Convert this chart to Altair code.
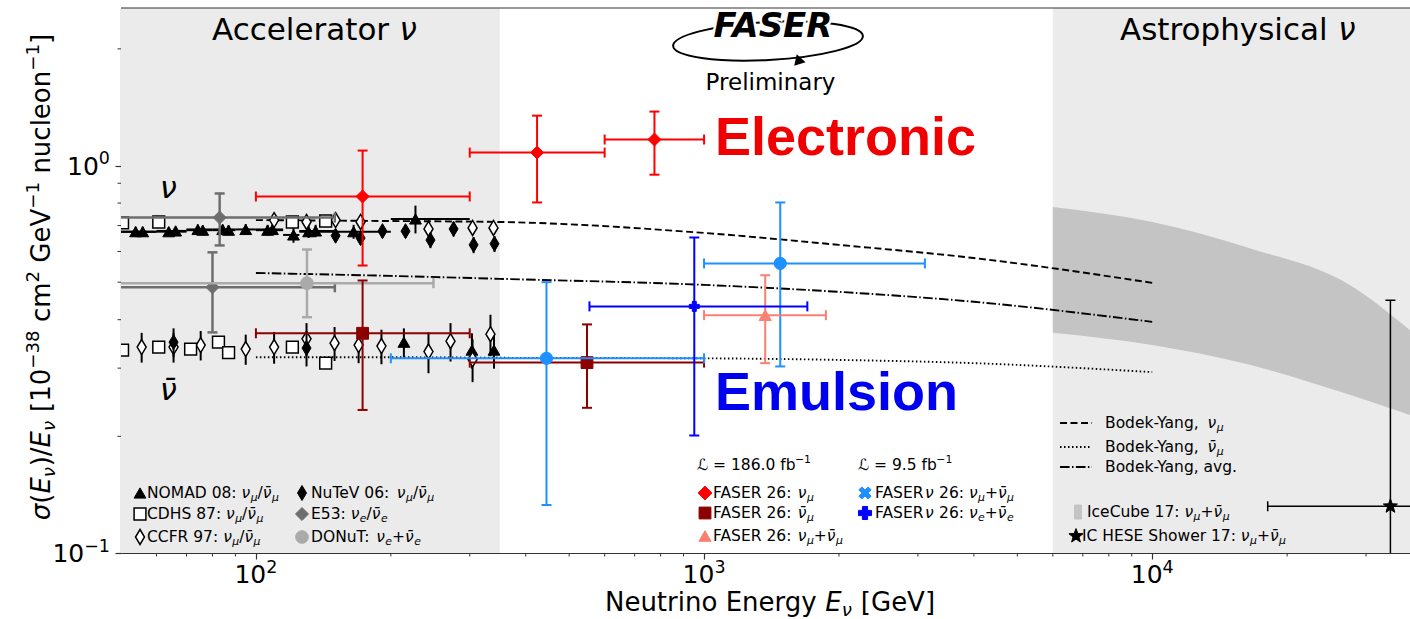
import math
import altair as alt
import pandas as pd

# ------------------------------------------------------------------
# Layout of the plot area (pixels) and the two log axes
# ------------------------------------------------------------------
W, H = 1289, 545
FONT = "DejaVu Sans"
BOLD_FONT = "Liberation Sans"

XS = alt.Scale(type="log", domain=[50, 37600], nice=False)
YS = alt.Scale(type="log", domain=[0.1, 2.55], nice=False)
AX = alt.Axis(values=[100, 1000, 10000], labels=False, title=None, grid=False, tickSize=6)
AY = alt.Axis(values=[0.1, 1], labels=False, title=None, grid=False, tickSize=6)

# ------------------------------------------------------------------
# Cross-section data, sigma/E in 1e-38 cm^2 GeV^-1 nucleon^-1
# ------------------------------------------------------------------
# FASER electronic detector, nu_mu
faser_numu_E = [173, 424, 775]
faser_numu_Elo = [100, 300, 600]
faser_numu_Ehi = [300, 600, 1000]
faser_numu_xs = [0.832, 1.080, 1.167]
faser_numu_lo = [0.552, 0.803, 0.947]
faser_numu_hi = [1.093, 1.345, 1.378]

# FASER electronic detector, anti-nu_mu
faser_nubar_E = [173, 548]
faser_nubar_Elo = [100, 300]
faser_nubar_Ehi = [300, 1000]
faser_nubar_xs = [0.369, 0.310]
faser_nubar_lo = [0.234, 0.237]
faser_nubar_hi = [0.505, 0.389]

# FASER electronic detector, nu_mu + anti-nu_mu
faser_sum_E = [1369]
faser_sum_Elo = [1000]
faser_sum_Ehi = [1870]
faser_sum_xs = [0.411]
faser_sum_lo = [0.309]
faser_sum_hi = [0.521]

# FASERnu emulsion, nu_mu + anti-nu_mu
fasernu_mu_E = [445, 1479]
fasernu_mu_Elo = [200, 1000]
fasernu_mu_Ehi = [1000, 3110]
fasernu_mu_xs = [0.318, 0.559]
fasernu_mu_lo = [0.133, 0.303]
fasernu_mu_hi = [0.500, 0.803]

# FASERnu emulsion, nu_e + anti-nu_e
fasernu_e_E = [951]
fasernu_e_Elo = [555]
fasernu_e_Ehi = [1700]
fasernu_e_xs = [0.433]
fasernu_e_lo = [0.201]
fasernu_e_hi = [0.652]

# NOMAD 08
nomad_nu_E = [53.9, 55.9, 63.9, 66.2, 74.2, 76.1, 84.3, 86.9, 94.9, 106.2, 108.9, 121.3, 131.1, 135.9, 165.2, 227.0]
nomad_nu_Elo = [45, 45, 60, 60, 70, 70, 80, 80, 90, 100, 100, 115, 125, 125, 150, 200]
nomad_nu_Ehi = [60, 60, 70, 70, 80, 80, 90, 90, 100, 115, 115, 125, 150, 150, 200, 300]
nomad_nu_xs = [0.675, 0.675, 0.675, 0.678, 0.684, 0.681, 0.684, 0.681, 0.684, 0.681, 0.684, 0.662, 0.675, 0.678, 0.675, 0.728]
nomad_nu_err = [0.020, 0.020, 0.018, 0.018, 0.020, 0.020, 0.020, 0.020, 0.022, 0.022, 0.022, 0.030, 0.025, 0.025, 0.028, 0.060]
nomad_nubar_E = [213.9, 303.4, 339.8]
nomad_nubar_xs = [0.350, 0.334, 0.334]
nomad_nubar_err = [0.030, 0.035, 0.035]

# CDHS 87
cdhs_nu_E = [50.4, 60.7, 120.6, 143.1]
cdhs_nu_xs = [0.711, 0.715, 0.715, 0.719]
cdhs_nubar_E = [50.4, 60.7, 71.5, 82.5, 86.9, 120.6, 143.1]
cdhs_nubar_xs = [0.334, 0.340, 0.336, 0.350, 0.329, 0.340, 0.309]

# CCFR 97
ccfr_nu_E = [109.8, 129.7, 150.6, 171.2, 242.7, 304.4, 338.9]
ccfr_nu_xs = [0.723, 0.715, 0.723, 0.715, 0.686, 0.690, 0.690]
ccfr_nu_err = [0.020, 0.020, 0.020, 0.020, 0.022, 0.022, 0.022]
ccfr_nubar_E = [55.6, 65.5, 75.3, 94.9, 109.8, 129.7, 149.8, 169.5, 190.6, 242.7, 271.8, 304.4, 333.7]
ccfr_nubar_xs = [0.340, 0.340, 0.344, 0.336, 0.340, 0.357, 0.348, 0.344, 0.342, 0.331, 0.352, 0.316, 0.367]
ccfr_nubar_err = [0.030, 0.030, 0.030, 0.030, 0.032, 0.035, 0.035, 0.035, 0.035, 0.040, 0.040, 0.040, 0.045]

# NuTeV 06
nutev_nu_E = [150.6, 171.2, 191.6, 215.7, 245.2, 276.1, 306.0, 340.7]
nutev_nu_xs = [0.659, 0.650, 0.677, 0.677, 0.642, 0.686, 0.624, 0.628]
nutev_nu_err = [0.025, 0.025, 0.025, 0.025, 0.030, 0.030, 0.030, 0.030]
nutev_nubar_E = [65.5, 129.7]
nutev_nubar_xs = [0.350, 0.338]
nutev_nubar_err = [0.030, 0.035]

# E53 (nu_e / anti-nu_e) and DONuT (nu_e + anti-nu_e)
e53_E = [83, 80]
e53_Elo = [30, 30]
e53_Ehi = [150, 150]
e53_xs = [0.734, 0.485]
e53_lo = [0.622, 0.371]
e53_hi = [0.847, 0.597]
donut_E = [130]
donut_Elo = [30]
donut_Ehi = [249]
donut_xs = [0.497]
donut_lo = [0.406]
donut_hi = [0.607]

# Bodek-Yang predictions
by_E = [100, 200, 350, 1000, 2000, 4000, 10000]
by_numu = [0.723, 0.719, 0.715, 0.670, 0.624, 0.577, 0.498]
by_nubar = [0.320, 0.320, 0.319, 0.318, 0.315, 0.309, 0.293]
by_avg = [0.528, 0.519, 0.510, 0.492, 0.472, 0.445, 0.395]

# IceCube 17 band and IC HESE shower point
ic_E = [6000, 10000, 16500, 27600, 37600]
ic_hi = [0.782, 0.715, 0.612, 0.492, 0.376]
ic_lo = [0.370, 0.344, 0.306, 0.256, 0.227]
hese_E = [34000]
hese_Elo = [18100]
hese_Ehi = [70000]
hese_xs = [0.132]
hese_lo = [0.02]
hese_hi = [0.449]

# Shaded energy regions
regions_lo = [10, 6000]
regions_hi = [350, 1e6]

# Minor tick positions
x_minor = [60, 70, 80, 90, 200, 300, 400, 500, 600, 700, 800, 900,
           2000, 3000, 4000, 5000, 6000, 7000, 8000, 9000, 20000, 30000]
y_minor = [0.2, 0.3, 0.4, 0.5, 0.6, 0.7, 0.8, 0.9, 2.0]

# ------------------------------------------------------------------
# Colours and marker shapes
# ------------------------------------------------------------------
RED = "#ff0000"
DARKRED = "#8b0000"
SALMON = "#fa8072"
DODGER = "#1e90ff"
BLUE = "#0000ff"
E53_GRAY = "#6e6e6e"
DONUT_GRAY = "#aaaaaa"
SHADE = "#ebebeb"
BAND = "#c4c4c4"
INK = "#333333"

THIN_DIAMOND = "M0,-1L0.6,0L0,1L-0.6,0Z"
HCAP = "M-1,0L1,0"
VCAP = "M0,-1L0,1"
BAR_PATCH = "M-0.5,-1L0.5,-1L0.5,1L-0.5,1Z"

DASH_MU = [7, 3.5]
DASH_BAR = [1.5, 2.5]
DASH_AVG = [9.6, 2.4, 1.5, 2.4]


def _poly(points):
    return "M" + "L".join(f"{x:.3f},{y:.3f}" for x, y in points) + "Z"


def _star():
    pts = []
    for k in range(10):
        r = 1.0 if k % 2 == 0 else 0.42
        a = math.radians(-90 + 36 * k)
        pts.append((r * math.cos(a), r * math.sin(a)))
    return _poly(pts)


def _x_mark(w=0.32):
    plus = [(-1, -w), (-w, -w), (-w, -1), (w, -1), (w, -w), (1, -w),
            (1, w), (w, w), (w, 1), (-w, 1), (-w, w), (-1, w)]
    s = 1 / math.sqrt(2)
    return _poly([((x - y) * s, (x + y) * s) for x, y in plus])


STAR = _star()
XMARK = _x_mark()
ELLIPSE = "M-0.95,0A0.95,0.19 0 1,1 0.95,0A0.95,0.19 0 1,1 -0.95,0Z"


def X(field):
    return alt.X(field, type="quantitative", scale=XS, axis=AX)


def Y(field):
    return alt.Y(field, type="quantitative", scale=YS, axis=AY)


def marker(base, shape, size, fill, stroke, sw=1.2):
    if fill is None:
        return base.mark_point(shape=shape, size=size, filled=False, stroke=stroke,
                               strokeWidth=sw, opacity=1, clip=True)
    return base.mark_point(shape=shape, size=size, filled=True, fill=fill, stroke=stroke,
                           strokeWidth=sw, opacity=1, clip=True)


def measured(E, xs, lo, hi, color, shape, size, fill, stroke, sw=1.2,
             Elo=None, Ehi=None, lw=2.0, cap=0):
    d = {"E": E, "xs": xs, "lo": lo, "hi": hi}
    if Elo is not None:
        d["Elo"] = Elo
        d["Ehi"] = Ehi
    base = alt.Chart(pd.DataFrame(d))
    out = []
    if Elo is not None:
        out.append(base.mark_rule(color=color, strokeWidth=lw, clip=True)
                   .encode(x=X("Elo"), x2="Ehi", y=Y("xs")))
    out.append(base.mark_rule(color=color, strokeWidth=lw, clip=True)
               .encode(x=X("E"), y=Y("lo"), y2="hi"))
    if cap:
        for yf in ("lo", "hi"):
            out.append(base.mark_point(shape=HCAP, size=cap * cap, filled=False, stroke=color,
                                       strokeWidth=lw, opacity=1, clip=True)
                       .encode(x=X("E"), y=Y(yf)))
        if Elo is not None:
            for xf in ("Elo", "Ehi"):
                out.append(base.mark_point(shape=VCAP, size=cap * cap, filled=False, stroke=color,
                                           strokeWidth=lw, opacity=1, clip=True)
                           .encode(x=X(xf), y=Y("xs")))
    out.append(marker(base, shape, size, fill, stroke, sw).encode(x=X("E"), y=Y("xs")))
    return out


def sym_err(E, xs, err):
    lo = [v - e for v, e in zip(xs, err)]
    hi = [v + e for v, e in zip(xs, err)]
    return E, xs, lo, hi


# ------------------------------------------------------------------
# Rich text (sub/superscripts) placed in plot pixel coordinates
# ------------------------------------------------------------------
ADV = {
    " ": 651, ":": 690, ".": 651, ",": 651, "/": 690, "+": 1716, "-": 739, "\u2212": 1716,
    "=": 1716, "(": 799, ")": 799, "[": 799, "]": 799,
    "A": 1401, "B": 1405, "C": 1430, "D": 1577, "E": 1294, "F": 1178, "G": 1587, "H": 1540,
    "I": 604, "K": 1343, "L": 1141, "M": 1767, "N": 1532, "O": 1612, "P": 1235, "R": 1423,
    "S": 1300, "T": 1251, "U": 1499, "V": 1401, "Y": 1251,
    "a": 1255, "b": 1300, "c": 1126, "d": 1300, "e": 1260, "f": 721, "g": 1300, "h": 1298,
    "i": 569, "k": 1186, "l": 569, "m": 1995, "n": 1298, "o": 1253, "p": 1300, "r": 842,
    "s": 1067, "t": 803, "u": 1298, "v": 1212, "w": 1675, "y": 1212,
    "\u03bd": 1212, "\u03bc": 1300, "\u03c3": 1300, "\u0304": 0, "\u2112": 1400,
}
for _d in "0123456789":
    ADV[_d] = 1303

STYLE = {"n": (False, 0), "i": (True, 0), "is": (True, -1), "u": (False, 1)}
texts = []


def adv(s, fs):
    return sum(ADV.get(ch, 1250) for ch in s) * fs / 2048.0


def rich(parts, x, y, size, anchor="left", angle=0, color="black", family=FONT, weight="normal"):
    widths = []
    for t, st in parts:
        lv = STYLE[st][1]
        widths.append(adv(t, size * (0.7 if lv else 1.0)))
    total = sum(widths)
    pos = {"left": 0.0, "center": -total / 2, "right": -total}[anchor]
    for (t, st), w in zip(parts, widths):
        it, lv = STYLE[st]
        fs = size * (0.7 if lv else 1.0)
        shift = {0: 0.0, -1: 0.2 * size, 1: -0.42 * size}[lv]
        # SVG drops leading blanks, so advance past them explicitly
        lead = len(t) - len(t.lstrip(" "))
        start = pos + adv(" " * lead, fs)
        body = t.strip(" ")
        if angle == 0:
            px, py = x + start, y + shift
        else:
            px, py = x + shift, y - start
        if body:
            texts.append(dict(px=px, py=py, t=body, fs=fs, italic=it, angle=angle,
                              color=color, family=family, weight=weight))
        pos += w


def nu(flav, bar=False):
    return [("\u03bd\u0304" if bar else "\u03bd", "i"), (flav, "is")]


MU, EL = "\u03bc", "e"
PAIR_MU = nu(MU) + [("/", "n")] + nu(MU, True)
PAIR_E = nu(EL) + [("/", "n")] + nu(EL, True)
SUM_MU = nu(MU) + [("+", "n")] + nu(MU, True)
SUM_E = nu(EL) + [("+", "n")] + nu(EL, True)

LEG = 15.5

# left legend
rich([("NOMAD 08: ", "n")] + PAIR_MU, 26, 490, LEG)
rich([("CDHS 87: ", "n")] + PAIR_MU, 26, 511, LEG)
rich([("CCFR 97: ", "n")] + PAIR_MU, 26, 534, LEG)
rich([("NuTeV 06: ", "n")] + PAIR_MU, 190, 490, LEG)
rich([("E53: ", "n")] + PAIR_E, 190, 511, LEG)
rich([("DONuT: ", "n")] + SUM_E, 190, 534, LEG)

# FASER legend
rich([("\u2112 = 186.0 fb", "n"), ("\u22121", "u")], 576, 462, LEG)
rich([("\u2112 = 9.5 fb", "n"), ("\u22121", "u")], 737, 462, LEG)
rich([("FASER 26: ", "n")] + nu(MU), 592, 490, LEG)
rich([("FASER 26: ", "n")] + nu(MU, True), 592, 510, LEG)
rich([("FASER 26: ", "n")] + SUM_MU, 592, 533, LEG)
rich([("FASER", "n"), ("\u03bd", "i"), (" 26: ", "n")] + SUM_MU, 754, 490, LEG)
rich([("FASER", "n"), ("\u03bd", "i"), (" 26: ", "n")] + SUM_E, 754, 510, LEG)

# theory / astrophysical legend
rich([("Bodek-Yang, ", "n")] + nu(MU), 984, 420, LEG)
rich([("Bodek-Yang, ", "n")] + nu(MU, True), 984, 444, LEG)
rich([("Bodek-Yang, avg.", "n")], 984, 464, LEG)
rich([("IceCube 17: ", "n")] + SUM_MU, 966, 509, LEG)
rich([("IC HESE Shower 17: ", "n")] + SUM_MU, 961, 533, LEG)

# region titles and annotations
rich([("Accelerator ", "n"), ("\u03bd", "i")], 91, 32, 31)
rich([("Astrophysical ", "n"), ("\u03bd", "i")], 999, 32, 31)
rich([("Preliminary", "n")], 650, 82, 23, anchor="center")
rich([("\u03bd", "i")], 39, 190, 30)
rich([("\u03bd\u0304", "i")], 39, 392, 30)
rich([("Electronic", "n")], 594, 147, 54, color="#f00000", family=BOLD_FONT, weight="bold")
rich([("Emulsion", "n")], 594, 402, 54, color="#0000f0", family=BOLD_FONT, weight="bold")

# axis titles
rich([("Neutrino Energy ", "n"), ("E", "i"), ("\u03bd", "is"), (" [GeV]", "n")],
     649, 603, 26, anchor="center")
rich([("\u03c3", "i"), ("(", "n"), ("E", "i"), ("\u03bd", "is"), (")/", "n"), ("E", "i"),
      ("\u03bd", "is"), (" [10", "n"), ("\u221238", "u"), (" cm", "n"), ("2", "u"),
      (" GeV", "n"), ("\u22121", "u"), (" nucleon", "n"), ("\u22121", "u"), ("]", "n")],
     -71, 269, 26, anchor="center", angle=270)

# ------------------------------------------------------------------
# Layers
# ------------------------------------------------------------------
layers = []

# shaded accelerator / astrophysical regions
layers.append(
    alt.Chart(pd.DataFrame({"a": regions_lo, "b": regions_hi}))
    .mark_rect(color=SHADE, clip=True)
    .encode(x=X("a"), x2="b", y=alt.value(0), y2=alt.value(H))
)

# IceCube band
layers.append(
    alt.Chart(pd.DataFrame({"E": ic_E, "lo": ic_lo, "hi": ic_hi}))
    .mark_area(color=BAND, opacity=1, clip=True, interpolate="monotone")
    .encode(x=X("E"), y=Y("hi"), y2="lo")
)

# Bodek-Yang curves
for vals, dash in ((by_numu, DASH_MU), (by_nubar, DASH_BAR), (by_avg, DASH_AVG)):
    layers.append(
        alt.Chart(pd.DataFrame({"E": by_E, "xs": vals}))
        .mark_line(color="black", strokeWidth=1.9, strokeDash=dash, clip=True, interpolate="monotone")
        .encode(x=X("E"), y=Y("xs"))
    )

# accelerator measurements (black)
layers += measured(*sym_err(nomad_nu_E, nomad_nu_xs, nomad_nu_err), "black", "triangle-up", 140,
                   "black", "black", 1, Elo=nomad_nu_Elo, Ehi=nomad_nu_Ehi, lw=2)
layers += measured(*sym_err(nomad_nubar_E, nomad_nubar_xs, nomad_nubar_err), "black", "triangle-up",
                   140, "black", "black", 1)
layers += measured(*sym_err(ccfr_nu_E, ccfr_nu_xs, ccfr_nu_err), "black", THIN_DIAMOND, 225,
                   "white", "black", 1.5)
layers += measured(*sym_err(ccfr_nubar_E, ccfr_nubar_xs, ccfr_nubar_err), "black", THIN_DIAMOND, 225,
                   "white", "black", 1.5)
layers += measured(*sym_err(nutev_nu_E, nutev_nu_xs, nutev_nu_err), "black", THIN_DIAMOND, 225,
                   "black", "black", 1)
layers += measured(*sym_err(nutev_nubar_E, nutev_nubar_xs, nutev_nubar_err), "black", THIN_DIAMOND,
                   225, "black", "black", 1)
for E, xs in ((cdhs_nu_E, cdhs_nu_xs), (cdhs_nubar_E, cdhs_nubar_xs)):
    layers.append(marker(alt.Chart(pd.DataFrame({"E": E, "xs": xs})), "square", 140, "white", "black", 1.5)
                  .encode(x=X("E"), y=Y("xs")))

# E53 and DONuT (grey)
layers += measured(e53_E, e53_xs, e53_lo, e53_hi, E53_GRAY, "diamond", 170, E53_GRAY, E53_GRAY, 1,
                   Elo=e53_Elo, Ehi=e53_Ehi, lw=2.5, cap=10)
layers += measured(donut_E, donut_xs, donut_lo, donut_hi, DONUT_GRAY, "circle", 160, DONUT_GRAY,
                   DONUT_GRAY, 1, Elo=donut_Elo, Ehi=donut_Ehi, lw=2.5, cap=10)

# IC HESE shower
layers += measured(hese_E, hese_xs, hese_lo, hese_hi, "black", STAR, 220, "black", "black", 1,
                   Elo=hese_Elo, Ehi=hese_Ehi, lw=1.5, cap=10)

# FASER results
layers += measured(faser_nubar_E, faser_nubar_xs, faser_nubar_lo, faser_nubar_hi, DARKRED, "square",
                   140, DARKRED, DARKRED, 1, Elo=faser_nubar_Elo, Ehi=faser_nubar_Ehi, cap=10)
layers += measured(fasernu_mu_E, fasernu_mu_xs, fasernu_mu_lo, fasernu_mu_hi, DODGER, "circle", 150,
                   DODGER, DODGER, 1, Elo=fasernu_mu_Elo, Ehi=fasernu_mu_Ehi, cap=10)
layers += measured(faser_sum_E, faser_sum_xs, faser_sum_lo, faser_sum_hi, SALMON, "triangle-up", 150,
                   SALMON, SALMON, 1, Elo=faser_sum_Elo, Ehi=faser_sum_Ehi, cap=10)
layers += measured(fasernu_e_E, fasernu_e_xs, fasernu_e_lo, fasernu_e_hi, BLUE, "cross", 100,
                   BLUE, BLUE, 1, Elo=fasernu_e_Elo, Ehi=fasernu_e_Ehi, cap=10)
layers += measured(faser_numu_E, faser_numu_xs, faser_numu_lo, faser_numu_hi, RED, "diamond", 170,
                   RED, RED, 1, Elo=faser_numu_Elo, Ehi=faser_numu_Ehi, cap=10)

# minor ticks
layers.append(
    alt.Chart(pd.DataFrame({"v": x_minor}))
    .mark_rule(color=INK, strokeWidth=1)
    .encode(x=X("v"), y=alt.value(H), y2=alt.value(H + 3.5))
)
layers.append(
    alt.Chart(pd.DataFrame({"v": y_minor}))
    .mark_rule(color=INK, strokeWidth=1)
    .encode(y=Y("v"), x=alt.value(0), x2=alt.value(-3.5))
)
# top frame
layers.append(
    alt.Chart(pd.DataFrame({"v": [0]}))
    .mark_rule(color=INK, strokeWidth=1.2)
    .encode(x=alt.value(0), x2=alt.value(W), y=alt.value(0))
)

# tick labels 10^n
TL = 25
w10 = adv("10", TL)
for v, sup in ((100, "2"), (1000, "3"), (10000, "4")):
    wsup = adv(sup, TL * 0.7)
    start = -(w10 + wsup) / 2
    src = alt.Chart(pd.DataFrame({"v": [v]}))
    layers.append(src.mark_text(align="left", baseline="alphabetic", font=FONT, fontSize=TL, dx=start,
                                color="black")
                  .encode(x=X("v"), y=alt.value(575), text=alt.value("10")))
    layers.append(src.mark_text(align="left", baseline="alphabetic", font=FONT, fontSize=TL * 0.7,
                                dx=start + w10, dy=-0.42 * TL, color="black")
                  .encode(x=X("v"), y=alt.value(575), text=alt.value(sup)))
for v, sup in ((1, "0"), (0.1, "\u22121")):
    wsup = adv(sup, TL * 0.7)
    start = -11 - (w10 + wsup)
    src = alt.Chart(pd.DataFrame({"v": [v]}))
    layers.append(src.mark_text(align="left", baseline="alphabetic", font=FONT, fontSize=TL, dx=start,
                                dy=9, color="black")
                  .encode(y=Y("v"), x=alt.value(0), text=alt.value("10")))
    layers.append(src.mark_text(align="left", baseline="alphabetic", font=FONT, fontSize=TL * 0.7,
                                dx=start + w10, dy=9 - 0.42 * TL, color="black")
                  .encode(y=Y("v"), x=alt.value(0), text=alt.value(sup)))

# legend line samples
for yy, dash in ((415, DASH_MU), (439, DASH_BAR), (459, DASH_AVG)):
    layers.append(
        alt.Chart(pd.DataFrame({"v": [0]}))
        .mark_rule(color="black", strokeWidth=1.9, strokeDash=dash)
        .encode(x=alt.value(939), x2=alt.value(971), y=alt.value(yy))
    )

# legend markers
legend_marks = [
    (19, 485, "triangle-up", 140, "black", "black", 1),
    (19, 506, "square", 140, "white", "black", 1.5),
    (19, 529, THIN_DIAMOND, 225, "white", "black", 1.5),
    (181, 485, THIN_DIAMOND, 225, "black", "black", 1),
    (181, 506, "diamond", 170, E53_GRAY, E53_GRAY, 1),
    (181, 529, "circle", 160, DONUT_GRAY, DONUT_GRAY, 1),
    (584, 485, "diamond", 190, RED, RED, 1),
    (584, 505, "square", 140, DARKRED, DARKRED, 1),
    (584, 528, "triangle-up", 150, SALMON, SALMON, 1),
    (744, 485, XMARK, 170, DODGER, DODGER, 1),
    (744, 505, "cross", 170, BLUE, BLUE, 1),
    (957, 504, BAR_PATCH, 196, BAND, BAND, 1),
    (955, 528, STAR, 220, "black", "black", 1),
]
for px, py, shp, sz, fl, st, sw in legend_marks:
    layers.append(
        alt.Chart(pd.DataFrame({"v": [0]}))
        .mark_point(shape=shp, size=sz, filled=True, fill=fl, stroke=st, strokeWidth=sw, opacity=1)
        .encode(x=alt.value(px), y=alt.value(py))
    )

# FASER logo swoosh
layers.append(
    alt.Chart(pd.DataFrame({"v": [0]}))
    .mark_point(shape=ELLIPSE, size=40000, filled=False, stroke="black", strokeWidth=2,
                opacity=1, angle=357)
    .encode(x=alt.value(647), y=alt.value(33))
)
layers.append(
    alt.Chart(pd.DataFrame({"v": [0]}))
    .mark_point(shape="triangle-right", size=70, filled=True, fill="black", stroke="black",
                opacity=1, angle=12)
    .encode(x=alt.value(679), y=alt.value(53))
)
logo = alt.Chart(pd.DataFrame({"v": [0]}))
layers.append(
    logo.mark_text(align="center", baseline="alphabetic", font=FONT, fontSize=34, fontWeight="bold",
                   fontStyle="italic", color="white", stroke="white", strokeWidth=5)
    .encode(x=alt.value(652), y=alt.value(29), text=alt.value("FASER"))
)
layers.append(
    logo.mark_text(align="center", baseline="alphabetic", font=FONT, fontSize=34, fontWeight="bold",
                   fontStyle="italic", color="black")
    .encode(x=alt.value(652), y=alt.value(29), text=alt.value("FASER"))
)

# all rich-text runs
tdf = pd.DataFrame(texts)
for key, g in tdf.groupby(["italic", "angle", "color", "family", "weight"]):
    it, ang, col, fam, wt = key
    layers.append(
        alt.Chart(g[["px", "py", "t", "fs"]].reset_index(drop=True))
        .mark_text(align="left", baseline="alphabetic", font=str(fam),
                   fontStyle="italic" if bool(it) else "normal", fontWeight=str(wt),
                   color=str(col), angle=int(ang))
        .encode(x=alt.X("px:Q", scale=None), y=alt.Y("py:Q", scale=None), text="t:N",
                size=alt.Size("fs:Q", scale=None))
    )

chart = (
    alt.layer(*layers)
    .properties(width=W, height=H, background="white",
                padding={"left": 121, "top": 8, "right": 0, "bottom": 66},
                autosize=alt.AutoSizeParams(type="none"))
    .configure_view(stroke=None)
    .configure_axis(domainColor=INK, tickColor=INK, domainWidth=1.2, tickWidth=1.2)
)

chart.save("out.html", embed_options={"renderer": "svg", "actions": False})
